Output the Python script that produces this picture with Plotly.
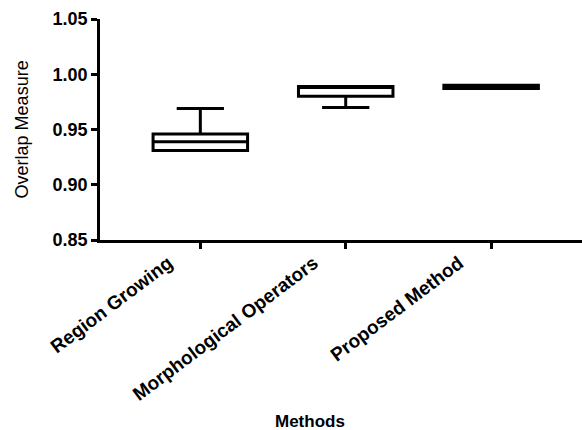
import plotly.graph_objects as go

methods = ["Region Growing", "Morphological Operators", "Proposed Method"]
q1 = [0.931, 0.980, 0.987]
median = [0.939, 0.989, 0.990]
q3 = [0.946, 0.989, 0.990]
lowerfence = [0.931, 0.970, 0.987]
upperfence = [0.969, 0.989, 0.990]
y_ticks = [0.85, 0.90, 0.95, 1.00, 1.05]

fig = go.Figure()
for i, m in enumerate(methods):
    fig.add_trace(go.Box(
        x=[m], q1=[q1[i]], median=[median[i]], q3=[q3[i]],
        lowerfence=[lowerfence[i]], upperfence=[upperfence[i]],
        width=0.65, whiskerwidth=0.5,
        line=dict(color="black", width=3),
        fillcolor="rgba(0,0,0,0)",
        showlegend=False, hoverinfo="skip",
    ))

fig.update_layout(
    width=582, height=430,
    margin=dict(l=100, r=0, t=19, b=190, autoexpand=False),
    paper_bgcolor="white", plot_bgcolor="white",
    font=dict(family="Liberation Sans", color="black"),
    xaxis=dict(
        type="category", categoryorder="array", categoryarray=methods,
        range=[-0.69, 2.625], automargin=False,
        showline=True, linecolor="black", linewidth=2.5,
        ticks="outside", ticklen=6, tickwidth=2.5, tickcolor="black",
        tickangle=-37, tickfont=dict(size=19, weight="bold"),
        ticklabelshift=-32, ticklabelstandoff=-4,
        showgrid=False, zeroline=False,
    ),
    yaxis=dict(
        range=[0.85, 1.05], tickvals=y_ticks, automargin=False,
        tickformat=".2f",
        showline=True, linecolor="black", linewidth=2.5,
        ticks="outside", ticklen=6, tickwidth=2.5, tickcolor="black",
        tickfont=dict(size=18, weight="bold"),
        showgrid=False, zeroline=False,
    ),
    annotations=[
        dict(text="Overlap Measure", xref="paper", yref="paper",
             x=-0.162, y=0.5, xanchor="center", yanchor="middle",
             textangle=-90, showarrow=False,
             font=dict(size=18, family="Liberation Sans Narrow, Liberation Sans")),
        dict(text="Methods", xref="paper", yref="paper",
             x=0.436, y=-0.8235, xanchor="center", yanchor="middle",
             showarrow=False, font=dict(size=17, weight="bold")),
    ],
)

fig.write_html("out.html", config={"displayModeBar": False},
               post_script="document.body.style.margin='0';document.body.style.overflow='hidden';")
